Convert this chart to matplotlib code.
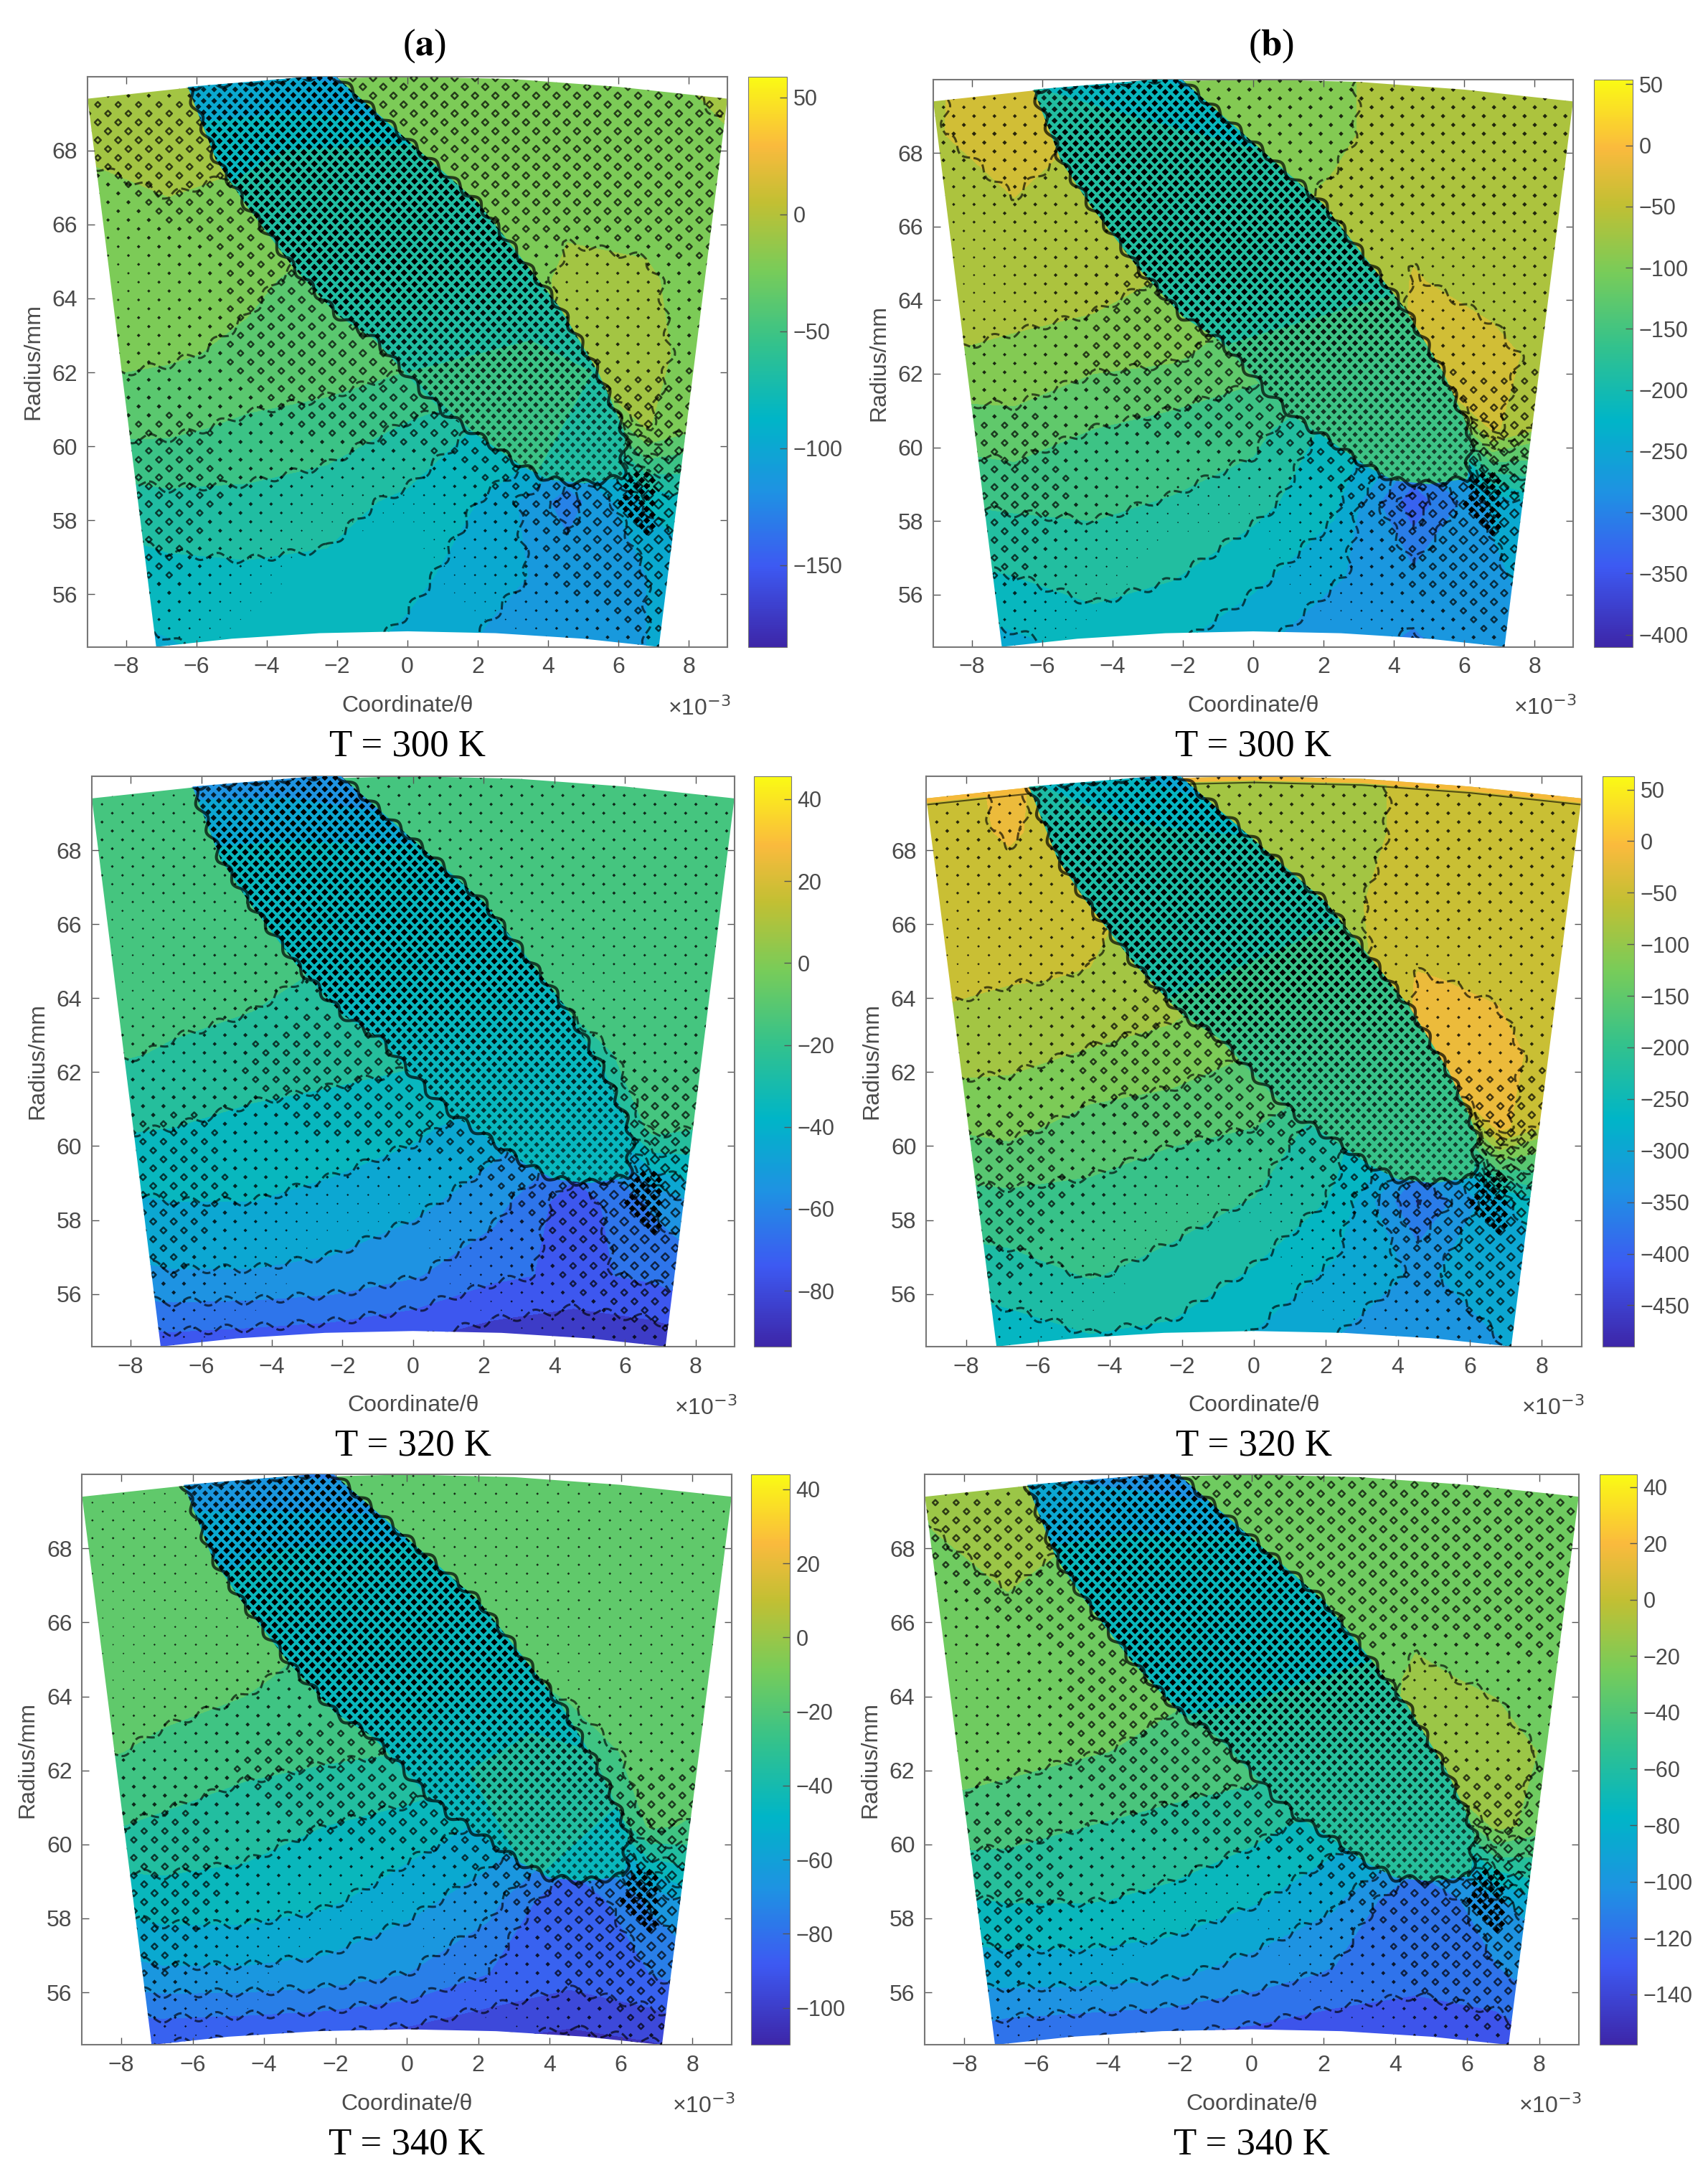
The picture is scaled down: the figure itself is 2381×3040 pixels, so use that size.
import numpy as np
import matplotlib
matplotlib.use("Agg")
import matplotlib.pyplot as plt
from matplotlib.colors import LinearSegmentedColormap, Normalize
from matplotlib.cm import ScalarMappable
from matplotlib.patches import PathPatch
from matplotlib.path import Path

W, H = 2381, 3040
SX = 2381 / 1228

# field nodes
theta_nodes = [-9.1, -6.8, -4.55, -2.3, 0, 2.3, 4.55, 6.8, 9.1]
r_nodes = [54.5, 56.5, 58.5, 60.5, 62.5, 64.5, 66.5, 68.5, 70]
blade_theta = [-7, -3.5, 0, 3.5, 7]
blade_r = [59, 62, 65, 68, 70]

field_a300 = [[-98, -92, -85, -84, -95, -108, -112, -105, -95],
              [-85, -80, -78, -78, -85, -100, -110, -105, -88],
              [-70, -64, -64, -70, -78, -92, -128, -88, -75],
              [-40, -42, -48, -50, -62, -78, -85, -14, -35],
              [-25, -28, -33, -38, -40, -40, -12, -12, -22],
              [-22, -24, -27, -35, -40, -35, -10, -13, -25],
              [-22, -16, -20, -25, -25, -20, -20, -20, -22],
              [-10, -8, -10, -25, -25, -22, -22, -22, -16],
              [-8, -8, -12, -25, -25, -22, -22, -22, -5]]
blade_a300 = [[-60, -60, -60, -60, -65],
              [-65, -65, -60, -58, -62],
              [-70, -70, -68, -65, -65],
              [-85, -75, -72, -70, -70],
              [-100, -105, -115, -80, -75]]
field_b300 = [[-265, -240, -225, -230, -256, -285, -293, -283, -250],
              [-210, -200, -185, -198, -222, -256, -283, -265, -240],
              [-170, -165, -165, -172, -190, -222, -340, -256, -197],
              [-128, -120, -140, -152, -158, -210, -256, -44, -105],
              [-80, -88, -100, -105, -128, -135, -40, -42, -65],
              [-55, -62, -65, -85, -100, -90, -48, -60, -60],
              [-52, -52, -55, -80, -95, -70, -58, -58, -58],
              [-52, -38, -52, -95, -95, -90, -55, -58, -58],
              [-52, -40, -52, -95, -95, -90, -55, -58, -50]]
blade_b300 = [[-165, -165, -165, -165, -170],
              [-170, -170, -165, -160, -165],
              [-185, -185, -180, -175, -170],
              [-190, -190, -195, -185, -180],
              [-200, -210, -280, -190, -180]]
field_a320 = [[-76, -76, -78, -80, -83, -88, -90, -88, -82],
              [-53, -51, -51, -53, -59, -68, -72, -68, -58],
              [-43, -40, -40, -42, -47, -56, -76, -58, -42],
              [-28, -30, -33, -36, -38, -45, -55, -16, -22],
              [-18, -21, -24, -25, -28, -30, -26, -14, -14],
              [-14, -16, -17, -22, -25, -25, -14, -14, -14],
              [-14, -14, -15, -18, -22, -18, -14, -14, -14],
              [-14, -14, -15, -18, -18, -18, -14, -14, -14],
              [-14, -14, -15, -18, -18, -16, -14, -14, -14]]
blade_a320 = [[-32, -32, -32, -32, -34],
              [-35, -35, -33, -30, -32],
              [-38, -38, -37, -35, -33],
              [-40, -38, -38, -36, -34],
              [-55, -55, -65, -40, -38]]
field_b320 = [[-300, -270, -255, -260, -290, -320, -330, -318, -280],
              [-235, -225, -208, -222, -250, -290, -320, -300, -270],
              [-190, -185, -185, -195, -212, -250, -390, -290, -220],
              [-140, -130, -155, -168, -175, -235, -290, -22, -115],
              [-85, -95, -108, -115, -140, -150, -22, -22, -65],
              [-60, -68, -72, -90, -110, -100, -32, -42, -60],
              [-55, -55, -60, -85, -100, -75, -60, -55, -55],
              [-55, -30, -58, -100, -100, -95, -55, -55, -55],
              [-50, -28, -58, -100, -100, -95, -55, -55, -50]]
blade_b320 = [[-200, -200, -200, -200, -205],
              [-200, -200, -195, -185, -190],
              [-220, -220, -210, -205, -200],
              [-235, -225, -225, -215, -205],
              [-240, -280, -340, -225, -210]]
field_a340 = [[-90, -92, -94, -96, -98, -102, -105, -102, -95],
              [-66, -62, -62, -64, -70, -80, -86, -80, -68],
              [-48, -44, -44, -48, -56, -66, -90, -68, -48],
              [-28, -32, -36, -40, -44, -52, -65, -18, -24],
              [-18, -22, -26, -28, -30, -34, -30, -14, -16],
              [-15, -16, -18, -24, -26, -26, -15, -15, -15],
              [-15, -15, -15, -18, -22, -18, -15, -15, -15],
              [-15, -15, -15, -18, -18, -18, -15, -15, -15],
              [-15, -15, -15, -18, -18, -16, -15, -15, -15]]
blade_a340 = [[-40, -40, -40, -40, -42],
              [-44, -44, -42, -38, -40],
              [-48, -48, -46, -44, -42],
              [-52, -50, -48, -46, -44],
              [-68, -70, -75, -50, -48]]
field_b340 = [[-115, -125, -130, -132, -135, -140, -142, -138, -120],
              [-90, -88, -88, -92, -102, -112, -118, -112, -95],
              [-68, -64, -64, -68, -78, -92, -125, -98, -70],
              [-40, -44, -50, -55, -60, -72, -85, -15, -35],
              [-26, -30, -34, -38, -42, -45, -12, -12, -28],
              [-24, -25, -27, -32, -36, -36, -17, -23, -28],
              [-24, -22, -24, -30, -32, -28, -26, -26, -28],
              [-21, -10, -20, -30, -30, -26, -26, -26, -24],
              [-18, -10, -18, -30, -30, -26, -26, -26, -22]]
blade_b340 = [[-60, -60, -60, -60, -62],
              [-62, -62, -60, -56, -58],
              [-72, -70, -68, -65, -60],
              [-82, -75, -72, -70, -66],
              [-95, -100, -115, -75, -70]]

# colourbar ranges, ticks and contour levels
clims = [(-185, 59), (-410, 54), (-93.6, 45.6), (-490, 63), (-110, 44), (-158, 44.5)]
cticks = [[50, 0, -50, -100, -150],
          [50, 0, -50, -100, -150, -200, -250, -300, -350, -400],
          [40, 20, 0, -20, -40, -60, -80],
          [50, 0, -50, -100, -150, -200, -250, -300, -350, -400, -450],
          [40, 20, 0, -20, -40, -60, -80, -100],
          [40, 20, 0, -20, -40, -60, -80, -100, -120, -140]]
level_start = [-180, -410, -90, -490, -110, -155]
level_step = [15, 30, 10, 35, 10, 15]
captions = ["T = 300 K", "T = 300 K", "T = 320 K", "T = 320 K", "T = 340 K", "T = 340 K"]
fields = [field_a300, field_b300, field_a320, field_b320, field_a340, field_b340]
blades = [blade_a300, blade_b300, blade_a320, blade_b320, blade_a340, blade_b340]

# outline of the sector and of the blade passage
arc_theta = [-9.1, -6, -3, 0, 3, 6, 9.1]
arc_r = [69.4, 69.72, 69.93, 70, 69.93, 69.72, 69.4]
foot_theta = [7.15, 5, 2.5, 0, -2.5, -5, -7.15]
foot_r = [54.58, 54.8, 54.95, 55, 54.95, 54.8, 54.58]
outline_theta = [-6.25, -2.1, 2.0, 4.3, 5.4, 5.95, 6.2, 6.1, 5.0, 4.0, 3.2, 2.15, 1.2, 0.45, -0.95, -2.0, -3.3, -4.65, -5.45]
outline_r = [69.72, 70.05, 66.6, 63.8, 62.05, 60.9, 60.3, 59.15, 59.0, 59.1, 59.5, 60.2, 60.8, 61.45, 62.9, 63.55, 64.9, 66.6, 67.75]

# size of the moire diamonds, px across
mesh_size = [[3, 3, 0, 0, 0, 0, 4, 6, 4],
             [6, 7, 3, 0, 0, 4, 7, 9, 6],
             [7, 8, 6, 3, 2, 6, 8, 12, 7],
             [6, 7, 6, 7, 8, 8, 9, 9, 8],
             [6, 5, 7, 8, 8, 8, 7, 5, 7],
             [2, 5, 7, 8, 8, 8, 4, 5, 7],
             [5, 7, 7, 8, 8, 8, 8, 8, 8],
             [8, 8, 7, 8, 8, 8, 8, 8, 8],
             [5, 5, 7, 8, 8, 8, 8, 8, 8]]
blade_size = [[7, 7, 7, 7, 7],
              [8, 8, 8, 8, 8],
              [9.5, 9.5, 9.5, 9, 8],
              [9, 9.5, 9.5, 9.5, 9],
              [7, 8.5, 9.5, 9.5, 9]]
upper_gain = [1.0, 0.8, 0.6, 0.7, 0.45, 1.0]

# axes boxes on the 1228 px wide picture: left, right, top, bottom, bar left, bar right
boxes = [(63, 523, 55, 465, 538, 566), (671, 1131, 57, 465, 1146, 1174),
         (66, 528, 558, 968, 542, 569), (666, 1137, 558, 968, 1152, 1175),
         (59, 526, 1060, 1470, 540, 568), (665, 1135, 1060, 1470, 1150, 1177)]

parula = LinearSegmentedColormap.from_list("parula", [
    (0.00, (0.24, 0.15, 0.66)), (0.14, (0.24, 0.35, 0.95)), (0.27, (0.12, 0.57, 0.89)),
    (0.40, (0.00, 0.71, 0.78)), (0.53, (0.20, 0.76, 0.55)), (0.66, (0.47, 0.80, 0.35)),
    (0.78, (0.76, 0.75, 0.20)), (0.88, (0.98, 0.73, 0.24)), (1.00, (0.98, 0.98, 0.08))])

plt.rcParams['font.family'] = ['Liberation Sans', 'DejaVu Sans']
fig = plt.figure(figsize=(W / 100, H / 100), dpi=100)
GREY = '#555555'
TXT = '#4a4a4a'


def sample(table, xn, yn, x, y):
    # bilinear lookup for the marker sizes
    t = np.array(table, dtype=float)
    i = np.clip(np.searchsorted(xn, x) - 1, 0, len(xn) - 2)
    j = np.clip(np.searchsorted(yn, y) - 1, 0, len(yn) - 2)
    xn, yn = np.array(xn), np.array(yn)
    u = (x - xn[i]) / (xn[i + 1] - xn[i])
    v = (y - yn[j]) / (yn[j + 1] - yn[j])
    return (t[j, i] * (1 - u) * (1 - v) + t[j, i + 1] * u * (1 - v)
            + t[j + 1, i] * (1 - u) * v + t[j + 1, i + 1] * u * v)


def lattice(t0, t1, r0, r1, dt, dr):
    # centred lattice, every other row moved half a step
    pts = []
    for k, r in enumerate(np.arange(r0, r1, dr)):
        for t in np.arange(t0 + (k % 2) * dt / 2, t1, dt):
            pts.append((t, r))
    pts = np.array(pts)
    return pts[:, 0], pts[:, 1]


def draw_panel(n):
    l, r, t, b, bl, br = [v * SX for v in boxes[n]]
    ax = fig.add_axes([l / W, 1 - b / H, (r - l) / W, (b - t) / H])
    lo, hi = clims[n]
    norm = Normalize(lo, hi)
    levels = np.arange(level_start[n], hi + level_step[n], level_step[n])

    sector = PathPatch(Path(list(zip(arc_theta + foot_theta, arc_r + foot_r)) + [(arc_theta[0], arc_r[0])], closed=True),
                       transform=ax.transData)
    passage = PathPatch(Path(list(zip(outline_theta, outline_r)) + [(outline_theta[0], outline_r[0])], closed=True),
                        transform=ax.transData)

    cf = ax.contourf(theta_nodes, r_nodes, fields[n], levels=levels, cmap=parula, norm=norm, zorder=1)
    cf.set_clip_path(sector)
    cl = ax.contour(theta_nodes, r_nodes, fields[n], levels=levels, colors='k', linewidths=2.2, alpha=0.65, zorder=2)
    cl.set_clip_path(sector)
    cl.set_sketch_params(scale=6, length=50, randomness=1)

    if n == 3:
        # thin hot rim along the outer arc
        rim, = ax.plot(arc_theta, arc_r, color='#f5b93a', lw=9, zorder=2, solid_capstyle='butt')
        rim.set_clip_path(sector)
        rim2, = ax.plot(arc_theta, np.array(arc_r) - 0.17, color='k', lw=1.5, alpha=0.6, zorder=2)
        rim2.set_clip_path(sector)

    # moire from the mesh lines
    gx, gy = lattice(-9.1, 9.1, 54.6, 70, 0.58, 0.24)
    outside = ~passage.get_path().contains_points(np.c_[gx, gy])
    d = sample(mesh_size, theta_nodes, r_nodes, gx, gy)
    d = d * np.interp(gy, [62, 66], [1, upper_gain[n]])
    solid = outside & (d > 1.5) & (d < 6.5)
    ax.scatter(gx[solid], gy[solid], s=(d[solid] * 0.509) ** 2, marker='D', c='k', linewidths=0, alpha=0.8,
               zorder=3).set_clip_path(sector)
    ring = outside & (d >= 6.5)
    ax.scatter(gx[ring], gy[ring], s=(d[ring] * 1.15 * 0.509) ** 2, marker='D', facecolors='none', edgecolors='k',
               linewidths=1.8, alpha=0.7, zorder=3).set_clip_path(sector)

    # black checks where the mesh is densest
    gx, gy = lattice(-9.1, 9.1, 54.6, 70, 0.3, 0.155)
    outside = ~passage.get_path().contains_points(np.c_[gx, gy])
    d = sample(mesh_size, theta_nodes, r_nodes, gx, gy)
    dense = outside & (d > 10.5) & (gx < 7.0)
    ax.scatter(gx[dense], gy[dense], s=(9.5 * 0.509) ** 2, marker='D', c='k', linewidths=0, zorder=3).set_clip_path(sector)

    bf = ax.contourf(blade_theta, blade_r, blades[n], levels=levels, cmap=parula, norm=norm, zorder=4)
    bf.set_clip_path(passage)
    gx, gy = lattice(-7, 7, 58.8, 70.2, 0.3, 0.155)
    d = sample(blade_size, blade_theta, blade_r, gx, gy)
    rgba = np.zeros((len(d), 4))
    rgba[:, 3] = np.clip((d - 4) / 5, 0.5, 1)
    ax.scatter(gx, gy, s=(d * 0.509) ** 2, marker='D', c=rgba, linewidths=0, zorder=5).set_clip_path(passage)
    edge, = ax.plot(outline_theta + outline_theta[:1], outline_r + outline_r[:1], color='k', lw=3, alpha=0.7, zorder=6)
    edge.set_sketch_params(scale=5, length=40, randomness=1)
    edge.set_clip_path(sector)

    ax.set_xlim(-9.1, 9.1)
    ax.set_ylim(54.58, 70)
    ax.set_xticks(range(-8, 9, 2))
    ax.set_yticks(range(56, 70, 2))
    ax.tick_params(direction='in', length=7, width=1, color=GREY, labelcolor=TXT, labelsize=23,
                   top=True, right=True, pad=10)
    for sp in ax.spines.values():
        sp.set_color('#777777')
        sp.set_linewidth(1.5)
    ax.set_xlabel('Coordinate/θ', fontsize=23, color=TXT, labelpad=17)
    ax.set_ylabel('Radius/mm', fontsize=23, color=TXT, labelpad=8)
    ax.text(1.005, -0.108, '×10$^{-3}$', transform=ax.transAxes, ha='right', va='center', fontsize=23,
            color=TXT, math_fontfamily='dejavusans')

    cax = fig.add_axes([bl / W, 1 - b / H, (br - bl) / W, (b - t) / H])
    cb = fig.colorbar(ScalarMappable(norm=norm, cmap=parula), cax=cax)
    cb.set_ticks(cticks[n])
    cb.ax.tick_params(direction='in', length=7, width=1, color=GREY, labelcolor=TXT, labelsize=22, pad=6)
    cb.outline.set_edgecolor('#777777')

    fig.text((l + r) / 2 / W, 1 - (b + 139) / H, captions[n], family='Liberation Serif', fontsize=38,
             ha='center', va='center', color='k')


for n in range(6):
    draw_panel(n)

fig.text(305 * SX / W, 1 - 33 * SX / H, r'($\mathbf{a}$)', family='Liberation Serif', math_fontfamily='stix',
         fontsize=38, ha='center', va='center')
fig.text(914 * SX / W, 1 - 33 * SX / H, r'($\mathbf{b}$)', family='Liberation Serif', math_fontfamily='stix',
         fontsize=38, ha='center', va='center')

fig.savefig('out.png', dpi=100)
